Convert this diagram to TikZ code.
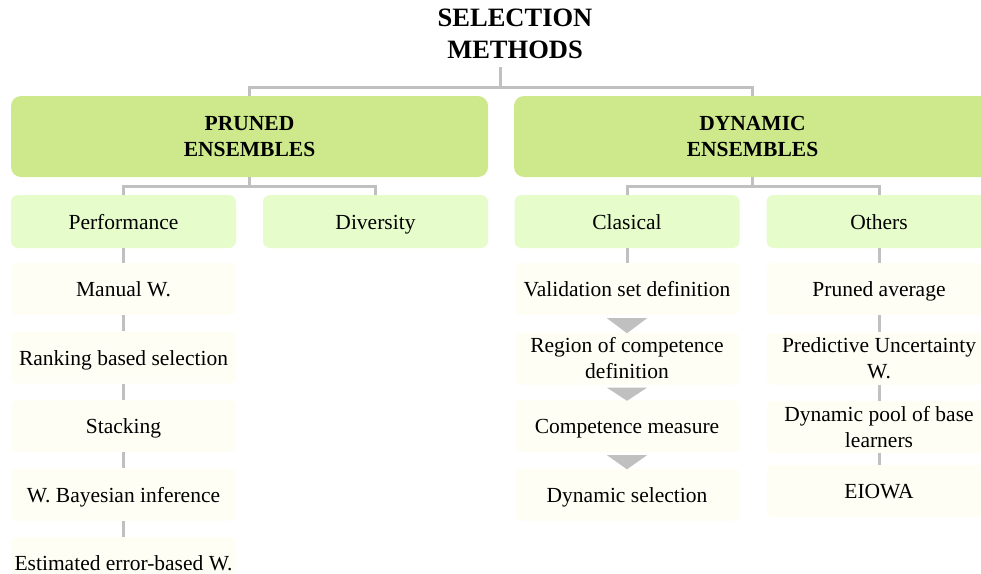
\documentclass[tikz,border=0pt]{standalone}
\usepackage{fontspec}
\setmainfont{Liberation Serif}
\definecolor{topgreen}{HTML}{CDE98B}
\definecolor{midgreen}{HTML}{E6FCCB}
\definecolor{leafcream}{HTML}{FEFEF4}
\definecolor{linkgray}{HTML}{C0C0C0}
\tikzset{
    boxtext/.style={font=\fontsize{21.5}{26}\selectfont, align=center, inner sep=2pt},
    oneline/.style={text height=17.5pt, text depth=2.5pt},
    topbox/.style={boxtext, fill=topgreen, rounded corners=10pt, minimum width=477pt, minimum height=81pt, font=\fontsize{21.5}{26}\selectfont\bfseries},
    midbox/.style={boxtext, oneline, fill=midgreen, rounded corners=7pt, minimum width=225pt, minimum height=53pt},
    leafwrap/.style={boxtext, fill=leafcream, rounded corners=6pt, minimum width=225pt, minimum height=52pt},
    leafbox/.style={leafwrap, oneline},
    link/.style={draw=linkgray, line width=3pt},
    flowtip/.style={fill=linkgray},
}
\begin{document}
\begin{tikzpicture}[x=1pt, y=-1pt]
            \clip (0, 0) rectangle (981, 573);
            % title and first level
            \node[font=\fontsize{26.5}{32}\selectfont\bfseries, align=center, inner sep=8pt] (title) at (515, 34) {SELECTION\\METHODS};
            \node[topbox] (pruned) at (249.5, 136.5) {PRUNED\\ENSEMBLES};
            \node[topbox] (dynamic) at (752.5, 136.5) {DYNAMIC\\ENSEMBLES};
            \coordinate (rootsplit) at (500, 87);
            \draw[link] (rootsplit |- title.south) -- (rootsplit);
            \draw[link] (pruned.north) |- (rootsplit) -| (dynamic.north);
            % second level
            \node[midbox] (perf) at (123.5, 221.5) {Performance};
            \node[midbox] (divers) at (375.5, 221.5) {Diversity};
            \node[midbox] (clas) at (627, 221.5) {Clasical};
            \node[midbox] (others) at (879, 221.5) {Others};
            \coordinate (prunedsplit) at (249.5, 186);
            \coordinate (dynsplit) at (752.5, 186);
            \draw[link] (pruned.south) -- (prunedsplit);
            \draw[link] (perf.north) |- (prunedsplit) -| (divers.north);
            \draw[link] (dynamic.south) -- (dynsplit);
            \draw[link] (clas.north) |- (dynsplit) -| (others.north);
            % performance methods
            \node[leafbox] (manual) at (123.5, 289) {Manual W.};
            \node[leafbox] (ranking) at (123.5, 357.5) {Ranking based selection};
            \node[leafbox] (stacking) at (123.5, 426) {Stacking};
            \node[leafbox] (bayes) at (123.5, 494.5) {W. Bayesian inference};
            \node[leafbox] (errorw) at (123.5, 563) {Estimated error-based W.};
            \foreach \a/\b in {perf/manual, manual/ranking, ranking/stacking, stacking/bayes, bayes/errorw}
                \draw[link] (\a.south) -- (\b.north);
            % clasical steps
            \node[leafbox] (valid) at (627, 289) {Validation set definition};
            \node[leafwrap] (region) at (627, 358.5) {Region of competence\\definition};
            \node[leafbox] (compet) at (627, 426) {Competence measure};
            \node[leafbox] (dynsel) at (627, 494.5) {Dynamic selection};
            \draw[link] (clas.south) -- (valid.north);
            \foreach \a/\b in {valid/region, region/compet, compet/dynsel}
                \fill[flowtip] ([xshift=-20pt, yshift=-3pt]\a.south) -- ([xshift=20pt, yshift=-3pt]\a.south) -- ([yshift=-1pt]\b.north) -- cycle;
            % other methods
            \node[leafbox] (prunedavg) at (879, 289) {Pruned average};
            \node[leafwrap] (uncert) at (879, 358.5) {Predictive Uncertainty\\W.};
            \node[leafwrap] (dynpool) at (879, 427) {Dynamic pool of base\\learners};
            \node[leafbox] (eiowa) at (879, 491) {EIOWA};
            \foreach \a/\b in {others/prunedavg, prunedavg/uncert, uncert/dynpool, dynpool/eiowa}
                \draw[link] (\a.south) -- (\b.north);
        \end{tikzpicture}
\end{document}
